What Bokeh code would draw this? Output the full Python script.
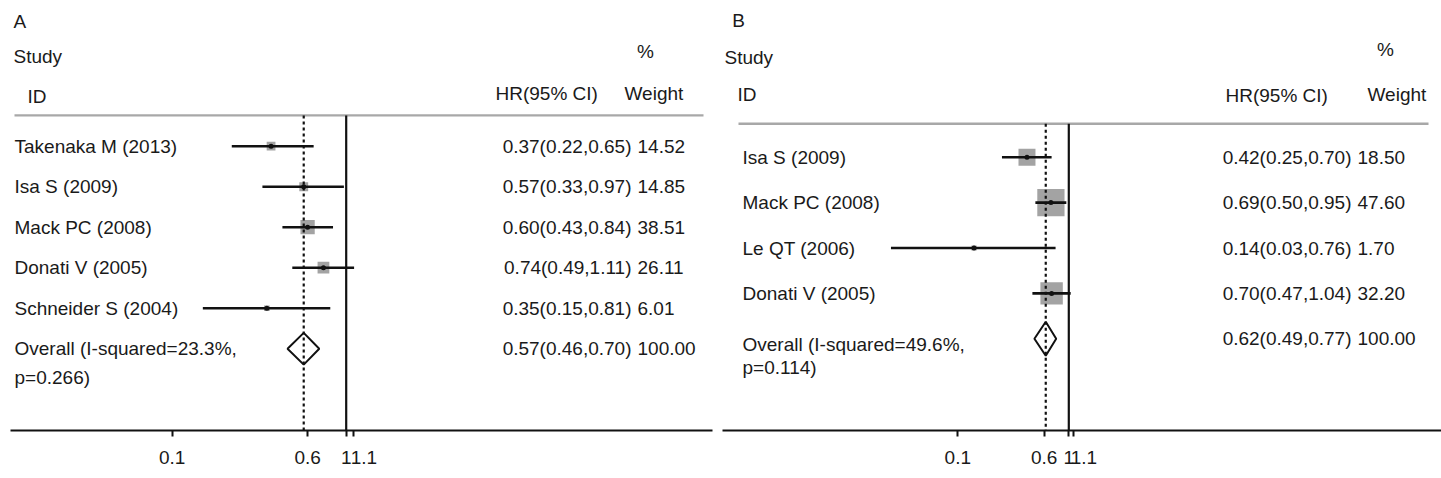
import math
from bokeh.plotting import figure
from bokeh.models import Range1d, FixedTicker, CustomJSTickFormatter
from bokeh.layouts import row
from bokeh.embed import file_html
from bokeh.resources import INLINE
from bokeh.core.properties import value

# ---------------- data: panel A ----------------
studies_a = ["Takenaka M (2013)", "Isa S (2009)", "Mack PC (2008)", "Donati V (2005)", "Schneider S (2004)"]
hr_a = [0.37, 0.57, 0.60, 0.74, 0.35]
lo_a = [0.22, 0.33, 0.43, 0.49, 0.15]
hi_a = [0.65, 0.97, 0.84, 1.11, 0.81]
weight_a = [14.52, 14.85, 38.51, 26.11, 6.01]
overall_a = [0.57, 0.46, 0.70]
i2_a = 23.3
p_a = 0.266

# ---------------- data: panel B ----------------
studies_b = ["Isa S (2009)", "Mack PC (2008)", "Le QT (2006)", "Donati V (2005)"]
hr_b = [0.42, 0.69, 0.14, 0.70]
lo_b = [0.25, 0.50, 0.025, 0.47]
hi_b = [0.70, 0.95, 0.76, 1.04]
weight_b = [18.50, 47.60, 1.70, 32.20]
overall_b = [0.62, 0.49, 0.77]
i2_b = 49.6
p_b = 0.114

tick_values = [0.1, 0.6, 1, 1.1]
tick_labels = ["0.1", "0.6", "1", "\u00a0\u00a0\u00a0\u00a01.1"]

FONT = "Liberation Sans"
FS = "19px"
TXT = "#1a1a1a"


def make_panel(letter, studies, hr, lo, hi, wt, ov, i2, pval, c):
    x_one, ppd, row0, dy = c["x_one"], c["ppd"], c["row0"], c["dy"]

    def X(px):
        return 10 ** ((px - x_one) / ppd)

    def Y(py):
        return (py - row0) / dy

    fx0, fx1 = c["frame_x"]
    fy0, fy1 = c["frame_y"]
    p = figure(width=c["width"], height=c["height"], x_axis_type="log",
               x_range=Range1d(X(fx0), X(fx1)), y_range=Range1d(Y(fy1), Y(fy0)),
               output_backend="svg", toolbar_location=None, y_axis_location=None,
               min_border_left=c["bl"], min_border_right=c["br"],
               min_border_top=0, min_border_bottom=c["height"] - fy1)
    p.outline_line_color = None
    p.xgrid.grid_line_color = None
    p.ygrid.grid_line_color = None
    p.background_fill_color = "white"
    p.border_fill_color = "white"

    ax = p.xaxis[0]
    ax.ticker = FixedTicker(ticks=tick_values, minor_ticks=[])
    ax.formatter = CustomJSTickFormatter(args=dict(tv=tick_values, tl=tick_labels),
                                         code="for (let i = 0; i < tv.length; i++) { if (Math.abs(tv[i] - tick) < 1e-9) return tl[i]; } return '';")
    ax.axis_line_width = 2.2
    ax.axis_line_color = "#111111"
    ax.major_tick_in = 0
    ax.major_tick_out = 6
    ax.major_tick_line_width = 2
    ax.major_tick_line_color = "#111111"
    ax.minor_tick_line_color = None
    ax.major_label_standoff = 10
    ax.major_label_text_font = FONT
    ax.major_label_text_font_size = FS
    ax.major_label_text_color = TXT

    n = len(studies)
    rows = list(range(n))
    ov_row = n

    # header separator (gray)
    gy = Y(c["gray_y"])
    p.segment(x0=[X(c["gray_x"][0])], y0=[gy], x1=[X(c["gray_x"][1])], y1=[gy],
              line_color="#a8a8a8", line_width=2.4)

    # weight boxes
    sizes = [c["sq_k"] * math.sqrt(w) for w in wt]
    p.scatter(x=hr, y=rows, marker="square", size=sizes,
              fill_color="#a3a3a3", line_color=None)

    # null line at 1
    bottom = Y(fy1)
    p.segment(x0=[1], y0=[gy], x1=[1], y1=[bottom], line_color="#111111", line_width=2.2)

    # CI lines
    p.segment(x0=lo, y0=rows, x1=hi, y1=rows, line_color="#111111", line_width=2.6)
    p.scatter(x=hr, y=rows, marker="circle", size=5, fill_color="#111111", line_color=None)

    # overall diamond
    h = c["dia_h"] / dy
    p.patch(x=[ov[1], ov[0], ov[2], ov[0]], y=[ov_row, ov_row - h, ov_row, ov_row + h],
            fill_color="white", line_color="#111111", line_width=2)

    # overall dotted line
    p.segment(x0=[ov[0]], y0=[gy], x1=[ov[0]], y1=[bottom], line_color="#111111",
              line_width=2.2, line_dash="3 3")

    tkw = dict(text_font=value(FONT), text_font_size=FS, text_color=TXT, text_baseline="middle")

    # headers
    for txt, px, py, al in c["headers"]:
        p.text(x=[X(px)], y=[Y(py)], text=[txt], text_align=al, **tkw)

    # study labels
    lx = X(c["label_x"])
    p.text(x=[lx] * n, y=rows, text=studies, text_align="left", **tkw)
    ov_lab_y = ov_row + c["ov_lab_dy"] / dy
    p.text(x=[lx], y=[ov_lab_y], text=["Overall (I-squared=%.1f%%," % i2], text_align="left", **tkw)
    p.text(x=[lx], y=[ov_lab_y + c["p_dy"] / dy], text=["p=%.3f)" % pval], text_align="left", **tkw)

    # HR + weight columns
    all_rows = rows + [ov_row]
    hr_txt = ["%.2f(%.2f,%.2f)" % (a, b, d) for a, b, d in zip(hr, lo, hi)]
    hr_txt.append("%.2f(%.2f,%.2f)" % (ov[0], ov[1], ov[2]))
    w_txt = ["%.2f" % w for w in wt] + ["100.00"]
    p.text(x=[X(c["hr_right"])] * (n + 1), y=all_rows, text=hr_txt, text_align="right", **tkw)
    p.text(x=[X(c["w_left"])] * (n + 1), y=all_rows, text=w_txt, text_align="left", **tkw)
    return p


cal_a = dict(x_one=345.7, ppd=174.0, row0=146.7, dy=40.8,
             frame_x=(10, 712), frame_y=(0, 433), width=720, height=478,
             bl=10, br=8, sq_k=2.3, dia_h=16,
             gray_y=115.7, gray_x=(14, 703),
             headers=[("A", 13, 21, "left"), ("Study", 13, 56.7, "left"),
                      ("%", 645, 51, "center"), ("ID", 27, 97, "left"),
                      ("HR(95% CI)", 495, 94, "left"), ("Weight", 624, 94, "left")],
             label_x=14, hr_right=631, w_left=637, ov_lab_dy=0, p_dy=29)

OFF = 720
cal_b = dict(x_one=1068.3 - OFF, ppd=111.0, row0=156.7, dy=45.4,
             frame_x=(2, 721), frame_y=(0, 430), width=721, height=478,
             bl=2, br=0, sq_k=3.95, dia_h=17,
             gray_y=123.3, gray_x=(738 - OFF, 1428 - OFF),
             headers=[("B", 731.7 - OFF, 20, "left"), ("Study", 724 - OFF, 56.7, "left"),
                      ("%", 1385 - OFF, 49, "center"), ("ID", 737 - OFF, 94.3, "left"),
                      ("HR(95% CI)", 1225 - OFF, 95, "left"), ("Weight", 1367 - OFF, 94.3, "left")],
             label_x=742 - OFF, hr_right=1351 - OFF, w_left=1357 - OFF, ov_lab_dy=6, p_dy=23)

pa = make_panel("A", studies_a, hr_a, lo_a, hi_a, weight_a, overall_a, i2_a, p_a, cal_a)
pb = make_panel("B", studies_b, hr_b, lo_b, hi_b, weight_b, overall_b, i2_b, p_b, cal_b)

layout = row(pa, pb)
open("out.html", "w").write(file_html(layout, INLINE))
